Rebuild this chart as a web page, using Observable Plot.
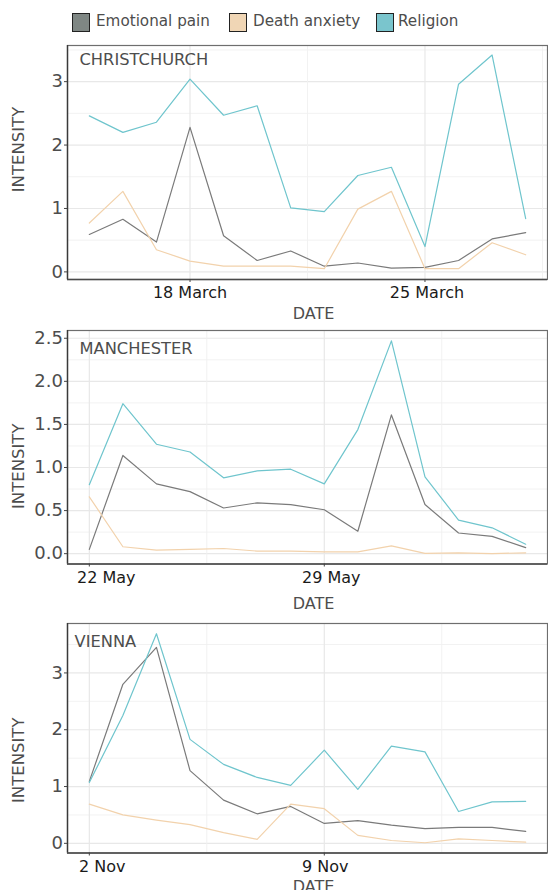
<!DOCTYPE html>
<html><head><meta charset="utf-8">
<script src="https://cdn.jsdelivr.net/npm/d3@7"></script>
<script src="https://cdn.jsdelivr.net/npm/@observablehq/plot@0.6"></script>
<style>
body{margin:0;background:#fff;font-family:"DejaVu Sans",sans-serif;}
#wrap{width:548px;height:890px;position:relative;overflow:hidden;background:#fff}
#legend{height:40px;position:relative}
.sw{position:absolute;top:13px;width:18px;height:19px;border:1px solid #222;box-sizing:border-box}
.lt{position:absolute;top:11px;font-size:15.2px;color:#4d4d4d;line-height:20px;white-space:nowrap}
svg{display:block}
g[aria-label="y-axis tick label"] text{fill:#4d4d4d}
</style></head><body><div id="wrap"><div id="legend"></div></div>
<script>
// ---- data ----
const seriesNames = ["Emotional pain", "Death anxiety", "Religion"];
const swatchColors = ["#7f8784", "#f0d6b5", "#7ac5cd"];
const lineColors = ["#7a7a7a", "#f2d2ac", "#6fc5cd"];

// Christchurch: 15 March - 28 March 2019
const chDates = ["2019-03-15","2019-03-16","2019-03-17","2019-03-18","2019-03-19","2019-03-20","2019-03-21","2019-03-22","2019-03-23","2019-03-24","2019-03-25","2019-03-26","2019-03-27","2019-03-28"];
const chEmotional = [0.59,0.83,0.47,2.28,0.57,0.18,0.33,0.09,0.14,0.06,0.07,0.18,0.52,0.62];
const chDeath     = [0.77,1.27,0.35,0.17,0.09,0.09,0.09,0.05,0.99,1.27,0.05,0.05,0.46,0.27];
const chReligion  = [2.46,2.20,2.36,3.04,2.47,2.62,1.01,0.95,1.52,1.65,0.40,2.96,3.42,0.84];
const chXTicks = ["2019-03-18","2019-03-25"];
const chXMinor = ["2019-03-21T12:00","2019-03-28T12:00"];
const chYTicks = [0,1,2,3];
const chYMinor = [0.5,1.5,2.5,3.5];

// Manchester: 22 May - 4 June 2017
const maDates = ["2017-05-22","2017-05-23","2017-05-24","2017-05-25","2017-05-26","2017-05-27","2017-05-28","2017-05-29","2017-05-30","2017-05-31","2017-06-01","2017-06-02","2017-06-03","2017-06-04"];
const maEmotional = [0.05,1.14,0.81,0.72,0.53,0.59,0.57,0.51,0.26,1.61,0.57,0.24,0.20,0.07];
const maDeath     = [0.66,0.08,0.04,0.05,0.06,0.03,0.03,0.02,0.02,0.09,0.004,0.01,0.0,0.01];
const maReligion  = [0.80,1.74,1.27,1.18,0.88,0.96,0.98,0.81,1.44,2.47,0.89,0.39,0.30,0.11];
const maXTicks = ["2017-05-22","2017-05-29"];
const maXMinor = ["2017-05-25T12:00","2017-06-01T12:00"];
const maYTicks = [0,0.5,1,1.5,2,2.5];
const maYMinor = [0.25,0.75,1.25,1.75,2.25];

// Vienna: 2 Nov - 15 Nov 2020
const viDates = ["2020-11-02","2020-11-03","2020-11-04","2020-11-05","2020-11-06","2020-11-07","2020-11-08","2020-11-09","2020-11-10","2020-11-11","2020-11-12","2020-11-13","2020-11-14","2020-11-15"];
const viEmotional = [1.09,2.80,3.45,1.28,0.76,0.52,0.65,0.35,0.40,0.32,0.26,0.28,0.28,0.21];
const viDeath     = [0.69,0.50,0.41,0.33,0.19,0.07,0.69,0.61,0.14,0.05,0.01,0.08,0.05,0.02];
const viReligion  = [1.07,2.25,3.69,1.83,1.39,1.16,1.02,1.64,0.95,1.71,1.61,0.56,0.73,0.74];
const viXTicks = ["2020-11-02","2020-11-09"];
const viXMinor = ["2020-11-05T12:00","2020-11-12T12:00"];
const viYTicks = [0,1,2,3];
const viYMinor = [0.5,1.5,2.5,3.5];

// ---- legend ----
const legend = document.getElementById("legend");
const swX = [72, 229, 376], txX = [96, 253, 398];
seriesNames.forEach((n, i) => {
  const s = document.createElement("div"); s.className = "sw";
  s.style.left = swX[i] + "px"; s.style.background = swatchColors[i];
  const t = document.createElement("div"); t.className = "lt";
  t.style.left = txX[i] + "px"; t.textContent = n;
  legend.appendChild(s); legend.appendChild(t);
});

const parse = s => new Date(s.length > 10 ? s + "Z" : s);
const DAY = 864e5;

function panel(o) {
  const dates = o.dates.map(parse);
  const rows = [];
  const series = [o.emo, o.death, o.rel];
  series.forEach((vals, si) => vals.forEach((v, i) => rows.push({date: dates[i], value: v, series: seriesNames[si]})));
  const x0 = new Date(+dates[0] - 0.65 * DAY), x1 = new Date(+dates[dates.length - 1] + 0.65 * DAY);
  const xt = o.xTicks.map(parse), xm = o.xMinor.map(parse);
  return Plot.plot({
    width: 548, height: o.height,
    marginLeft: 67, marginRight: 1, marginTop: o.mt, marginBottom: o.mb,
    style: {fontFamily: "DejaVu Sans", background: "white", overflow: "visible"},
    x: {type: "utc", domain: [x0, x1]},
    y: {domain: o.yDomain},
    color: {domain: seriesNames, range: lineColors},
    marks: [
      Plot.ruleY(o.yMinor, {stroke: "#f0f0f0", strokeWidth: 0.9}),
      Plot.ruleY(o.yTicks, {stroke: "#e8e8e8", strokeWidth: 1.2}),
      Plot.ruleX(xm, {stroke: "#f0f0f0", strokeWidth: 0.9}),
      Plot.ruleX(xt, {stroke: "#e8e8e8", strokeWidth: 1.2}),
      Plot.frame({stroke: "#6e6e6e", strokeWidth: 1.2}),
      Plot.line(rows, {x: "date", y: "value", z: "series", stroke: "series", strokeWidth: 1.2}),
      Plot.ruleX([x0], {stroke: "#3a3a3a", strokeWidth: 1.4}),
      Plot.ruleY([o.yDomain[0]], {stroke: "#4a4a4a", strokeWidth: 1.6}),
      Plot.axisY({ticks: o.yTicks, tickFormat: o.yFmt, tickSize: 3, tickPadding: 1.5, fontSize: 18, stroke: "#444", label: null}),
      Plot.axisX({ticks: xt, tickFormat: () => "", tickSize: 3, stroke: "#444", label: null}),
      ...xt.map((t, i) => Plot.text([t], {x: d => d, frameAnchor: "bottom", text: o.xFmt, dx: o.xdx[i], dy: 7.5, fontSize: 16, fill: "#1a1a1a", textAnchor: "middle", lineAnchor: "top"})),
      Plot.text([o.name], {frameAnchor: "top-left", text: d => d, dx: o.tdx, dy: o.tdy, fontSize: 16.3, fill: "#4d4d4d", textAnchor: "start", lineAnchor: "middle"}),
      Plot.text(["INTENSITY"], {frameAnchor: "left", text: d => d, rotate: -90, dx: -49, dy: o.idy, fontSize: 16.5, fill: "#4d4d4d", textAnchor: "middle", lineAnchor: "middle"}),
      Plot.text(["DATE"], {frameAnchor: "bottom", text: d => d, dx: 6, dy: o.ddy, fontSize: 16, fill: "#4d4d4d", textAnchor: "middle", lineAnchor: "middle"})
    ]
  });
}

const wrap = document.getElementById("wrap");
wrap.appendChild(panel({
  name: "CHRISTCHURCH", dates: chDates, emo: chEmotional, death: chDeath, rel: chReligion,
  xTicks: chXTicks, xMinor: chXMinor, yTicks: chYTicks, yMinor: chYMinor,
  yDomain: [-0.12, 3.57], yFmt: d3.format("d"), xFmt: d3.utcFormat("%-d %B"), xdx: [0, 2],
  height: 282, mt: 5, mb: 43, tdx: 12, tdy: 14.5, idy: -13, ddy: 34.3
}));
wrap.appendChild(panel({
  name: "MANCHESTER", dates: maDates, emo: maEmotional, death: maDeath, rel: maReligion,
  xTicks: maXTicks, xMinor: maXMinor, yTicks: maYTicks, yMinor: maYMinor,
  yDomain: [-0.12, 2.59], yFmt: d3.format(".1f"), xFmt: d3.utcFormat("%-d %b"), xdx: [17, 7],
  height: 290, mt: 8, mb: 48.5, tdx: 12, tdy: 18.3, idy: 19, ddy: 39.4
}));
wrap.appendChild(panel({
  name: "VIENNA", dates: viDates, emo: viEmotional, death: viDeath, rel: viReligion,
  xTicks: viXTicks, xMinor: viXMinor, yTicks: viYTicks, yMinor: viYMinor,
  yDomain: [-0.17, 3.87], yFmt: d3.format("d"), xFmt: d3.utcFormat("%-d %b"), xdx: [13, 1],
  height: 278, mt: 11, mb: 37.5, tdx: 7, tdy: 18, idy: 22, ddy: 34
}));
</script></body></html>
